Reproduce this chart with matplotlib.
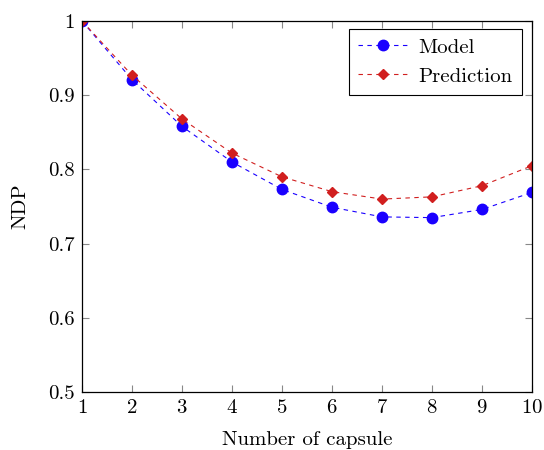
import matplotlib.pyplot as plt
from matplotlib.ticker import FixedLocator

capsules = [1, 2, 3, 4, 5, 6, 7, 8, 9, 10]
model = [1.0, 0.921, 0.858, 0.810, 0.773, 0.749, 0.736, 0.735, 0.746, 0.769]
prediction = [1.0, 0.927, 0.868, 0.822, 0.790, 0.770, 0.760, 0.763, 0.778, 0.805]

yticks = [0.5, 0.6, 0.7, 0.8, 0.9, 1.0]
ytick_labels = ["0.5", "0.6", "0.7", "0.8", "0.9", "1"]

plt.rcParams['font.family'] = ['cmr10', 'DejaVu Serif']
plt.rcParams['font.size'] = 15
plt.rcParams['axes.formatter.use_mathtext'] = True

fig = plt.figure(figsize=(5.44, 4.5), dpi=100)
ax = fig.add_axes([0.1507, 0.1289, 0.8272, 0.8244])

ax.plot(capsules, model, color='#1a00ff', ls=(0, (4, 4)), lw=0.8,
        marker='o', markersize=7.5, label='Model')
ax.plot(capsules, prediction, color='#d11f1f', ls=(0, (4, 4)), lw=0.8,
        marker='D', markersize=5, label='Prediction')

ax.set_xlim(1, 10)
ax.set_ylim(0.5, 1.0)
ax.set_xticks(capsules)
ax.yaxis.set_major_locator(FixedLocator(yticks))
ax.set_yticklabels(ytick_labels)
ax.tick_params(direction='in', length=5, width=0.8, color='#888888',
               top=True, right=True, pad=5)
for s in ax.spines.values():
    s.set_linewidth(0.9)

ax.set_xlabel("Number of capsule", labelpad=10)
ax.set_ylabel("NDP", labelpad=14)

leg = ax.legend(loc='upper right', bbox_to_anchor=(0.978, 0.979), borderaxespad=0,
                fancybox=False, framealpha=1, edgecolor='black', handlelength=2.4,
                borderpad=0.45, labelspacing=0.5, handletextpad=0.5)
leg.get_frame().set_linewidth(0.8)

fig.savefig("out.png", dpi=100)
